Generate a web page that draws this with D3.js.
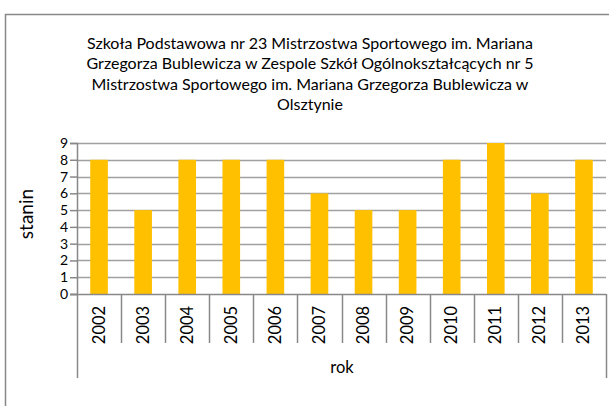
<!DOCTYPE html>
<html>
<head>
<meta charset="utf-8">
<script src="https://cdn.jsdelivr.net/npm/d3@7"></script>
<style>
  body { margin: 0; background: #fff; }
  svg text { font-family: Lato, "Open Sans", sans-serif; fill: #000; }
</style>
</head>
<body>
<svg id="chart" width="609" height="406"></svg>
<script>
const years = ["2002","2003","2004","2005","2006","2007","2008","2009","2010","2011","2012","2013"];
const stanin = [8, 5, 8, 8, 8, 6, 5, 5, 8, 9, 6, 8];
const yTicks = [0,1,2,3,4,5,6,7,8,9];
const titleLines = [
  "Szkoła Podstawowa nr 23 Mistrzostwa Sportowego im. Mariana",
  "Grzegorza Bublewicza w Zespole Szkół Ogólnokształcących nr 5",
  "Mistrzostwa Sportowego im. Mariana Grzegorza Bublewicza w",
  "Olsztynie"
];

const svg = d3.select("#chart");
const plot = {left: 77, right: 606, top: 143, bottom: 294};

// outer chart frame
svg.append("rect")
  .attr("x", 5.5).attr("y", 14.5)
  .attr("width", 620).attr("height", 420)
  .attr("fill", "none").attr("stroke", "#888").attr("stroke-width", 1.5);

const title = svg.append("text")
  .attr("text-anchor", "middle")
  .attr("font-size", 16);
titleLines.forEach((t, i) => {
  title.append("tspan").attr("x", 310).attr("y", 49 + i * 20.3).text(t);
});

const x = d3.scaleBand().domain(years).range([plot.left, plot.right]).paddingInner(0.6).paddingOuter(0.3);
const xCat = d3.scaleBand().domain(years).range([plot.left, plot.right]);
const y = d3.scaleLinear().domain([0, 9]).range([plot.bottom, plot.top]);

// gridlines
svg.append("g")
  .selectAll("line")
  .data(yTicks.slice(1))
  .join("line")
  .attr("x1", plot.left).attr("x2", plot.right)
  .attr("y1", d => Math.round(y(d)) + 0.5).attr("y2", d => Math.round(y(d)) + 0.5)
  .attr("stroke", "#a0a0a0").attr("stroke-width", 1.5);

// bars
svg.append("g")
  .selectAll("rect")
  .data(years)
  .join("rect")
  .attr("x", d => x(d))
  .attr("width", x.bandwidth())
  .attr("y", (d, i) => y(stanin[i]))
  .attr("height", (d, i) => plot.bottom - y(stanin[i]))
  .attr("fill", "#FFC000");

// y axis
const yAxis = svg.append("g")
  .attr("transform", `translate(${plot.left},0)`)
  .call(d3.axisLeft(y).tickValues(yTicks).tickSize(7).tickPadding(2));
yAxis.select(".domain").attr("stroke", "#888").attr("stroke-width", 1.5);
yAxis.selectAll(".tick line").attr("stroke", "#888").attr("stroke-width", 1.5);
yAxis.selectAll(".tick text").attr("font-size", 14).attr("font-family", "Lato, sans-serif");

// category boxes under the axis
const xg = svg.append("g");
xg.append("line")
  .attr("x1", plot.left - 7).attr("x2", plot.right)
  .attr("y1", plot.bottom + 0.5).attr("y2", plot.bottom + 0.5)
  .attr("stroke", "#888").attr("stroke-width", 1.5);
const bounds = years.map(d => xCat(d)).concat([plot.right]);
xg.selectAll("line.sep")
  .data(bounds)
  .join("line")
  .attr("class", "sep")
  .attr("x1", d => Math.round(d) + 0.5).attr("x2", d => Math.round(d) + 0.5)
  .attr("y1", plot.bottom).attr("y2", (d, i) => (i === 0 || i === bounds.length - 1) ? 378 : 343)
  .attr("stroke", "#888").attr("stroke-width", 1.5);

xg.selectAll("text.year")
  .data(years)
  .join("text")
  .attr("class", "year")
  .attr("font-size", 16.5)
  .attr("text-anchor", "middle")
  .attr("transform", d => `translate(${xCat(d) + xCat.bandwidth() / 2 + 5.5},${325}) rotate(-90)`)
  .text(d => d);

svg.append("text")
  .attr("x", 342).attr("y", 373)
  .attr("text-anchor", "middle")
  .attr("font-size", 16.5)
  .text("rok");

svg.append("text")
  .attr("transform", "translate(33,214) rotate(-90)")
  .attr("text-anchor", "middle")
  .attr("font-size", 19)
  .text("stanin");
</script>
</body>
</html>
